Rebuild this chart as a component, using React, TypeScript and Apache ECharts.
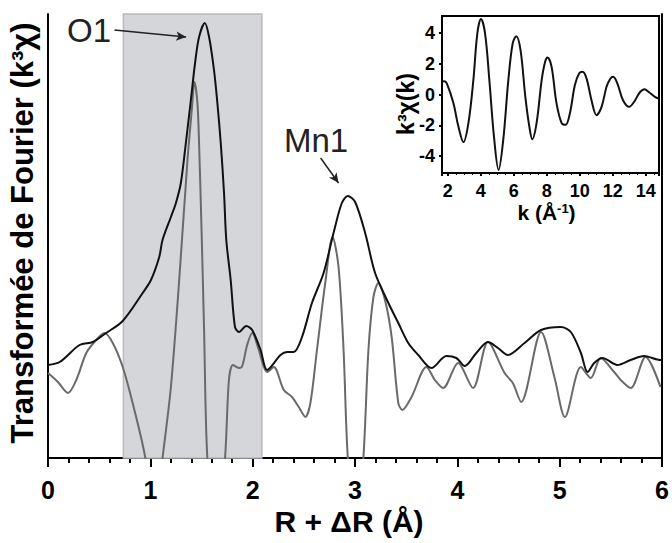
import React, { useEffect, useRef } from "react";
import * as echarts from "echarts";

// |FT| magnitude (black curve), R + dR in angstrom, arbitrary units
const magR = [0.0, 0.114, 0.309, 0.438, 0.568, 0.73, 0.925, 1.006, 1.087, 1.119, 1.201, 1.25, 1.298, 1.347, 1.396, 1.437, 1.476, 1.532, 1.574, 1.622, 1.655, 1.688, 1.72, 1.742, 1.785, 1.827, 1.866, 1.937, 1.995, 2.077, 2.141, 2.272, 2.336, 2.401, 2.482, 2.579, 2.693, 2.79, 2.871, 2.929, 3.001, 3.099, 3.196, 3.326, 3.423, 3.52, 3.618, 3.747, 3.893, 3.99, 4.072, 4.185, 4.299, 4.396, 4.493, 4.656, 4.817, 5.012, 5.109, 5.207, 5.272, 5.337, 5.418, 5.564, 5.693, 5.824, 5.985, 6.0];
const magVal = [93, 96, 113, 116, 125, 137, 165, 178, 201, 218, 241, 255, 275, 315, 358, 395, 421, 435, 421, 388, 355, 315, 265, 218, 178, 131, 126, 132, 128, 108, 88, 103, 106, 106, 121, 155, 185, 225, 255, 262, 256, 225, 185, 155, 135, 115, 103, 90, 102, 100, 92, 105, 116, 110, 103, 115, 128, 131, 126, 105, 86, 95, 100, 93, 98, 102, 98, 98];

// real part (grey curve)
const reR = [0.0, 0.097, 0.195, 0.276, 0.374, 0.471, 0.552, 0.633, 0.73, 0.827, 0.951, 1.035, 1.119, 1.201, 1.282, 1.363, 1.405, 1.431, 1.46, 1.476, 1.503, 1.525, 1.557, 1.643, 1.73, 1.768, 1.807, 1.866, 1.898, 1.946, 1.995, 2.06, 2.109, 2.141, 2.206, 2.304, 2.384, 2.45, 2.515, 2.564, 2.628, 2.709, 2.781, 2.839, 2.888, 2.929, 3.005, 3.082, 3.131, 3.18, 3.228, 3.293, 3.358, 3.423, 3.462, 3.552, 3.698, 3.78, 3.861, 4.007, 4.153, 4.299, 4.461, 4.542, 4.623, 4.818, 4.948, 5.051, 5.207, 5.304, 5.401, 5.532, 5.596, 5.693, 5.839, 5.985];
const reVal = [85, 76, 65, 78, 105, 118, 125, 115, 91, 55, 0, -70, 0, 71, 178, 298, 348, 376, 355, 315, 218, 128, 0, -90, 0, 78, 93, 90, 92, 113, 125, 108, 91, 86, 91, 68, 61, 51, 41, 55, 108, 175, 221, 191, 108, 1, -80, 1, 108, 161, 175, 158, 121, 55, 48, 61, 91, 78, 70, 95, 70, 116, 85, 75, 56, 126, 81, 41, 91, 80, 100, 86, 78, 70, 101, 71];

// inset: k^3 chi(k)
const kVals = [1.68, 1.8, 1.94, 2.34, 2.64, 2.95, 3.25, 3.55, 3.79, 4.01, 4.26, 4.52, 4.8, 5.08, 5.36, 5.67, 5.93, 6.15, 6.41, 6.7, 6.94, 7.12, 7.38, 7.69, 7.9, 8.05, 8.29, 8.59, 8.9, 9.14, 9.4, 9.7, 9.96, 10.17, 10.41, 10.71, 11.01, 11.32, 11.62, 11.86, 12.02, 12.28, 12.62, 12.99, 13.33, 13.63, 13.92, 14.2, 14.55, 14.8];
const chiVals = [0.84, 0.86, 0.72, -0.55, -2.07, -3.1, -1.86, 0.93, 3.96, 4.9, 3.96, 0.93, -2.74, -4.9, -2.96, 0.93, 3.3, 3.79, 2.88, -0.15, -2.07, -2.9, -1.86, 0.93, 2.12, 2.4, 1.8, -0.58, -1.86, -1.97, -1.22, 0.6, 1.36, 1.47, 1.03, -0.37, -1.34, -0.8, 0.5, 1.04, 1.15, 0.71, -0.37, -0.8, -0.41, 0.13, 0.34, 0.15, -0.15, -0.27];

const shadedRange = [0.737, 2.09];
const peakLabels = ["O1", "Mn1"];
// arrows [startR, startY, endR, endY] in data units
const arrowO1 = [0.649, 428, 1.35, 421];
const arrowMn1 = [2.664, 300, 2.839, 275];

const FONT = "'Liberation Sans', Arial, Helvetica, sans-serif";

export default function App() {
  const ref = useRef<HTMLDivElement>(null);
  useEffect(() => {
    document.body.style.margin = "0";
    const chart = echarts.init(ref.current!, null, { renderer: "svg" });
    const zip = (xs: number[], ys: number[]) => xs.map((x, i) => [x, ys[i]]);
    const blackAxisLine = { show: true, onZero: false, lineStyle: { color: "#000", width: 2 } };
    chart.setOption({
      animation: false,
      backgroundColor: "#fff",
      grid: [
        { left: 48, top: 14, right: 7, bottom: 85 },
        { left: 442, top: 16, width: 217, height: 157, show: true, backgroundColor: "#fff", borderColor: "#000", borderWidth: 2, z: 5 },
      ],
      xAxis: [
        {
          gridIndex: 0, type: "value", min: 0, max: 6, interval: 1,
          axisLine: blackAxisLine,
          axisTick: { show: true, length: 9, lineStyle: { color: "#000", width: 2 } },
          minorTick: { show: true, splitNumber: 5, length: 5, lineStyle: { color: "#000", width: 2 } },
          axisLabel: { margin: 19, fontSize: 25, fontWeight: "bold", color: "#000", fontFamily: FONT },
          splitLine: { show: false },
          name: "R + ΔR (Å)", nameLocation: "middle", nameGap: 47,
          nameTextStyle: { fontSize: 30, fontWeight: "bold", color: "#000", fontFamily: FONT, padding: [0, 12, 0, 0] },
        },
        {
          gridIndex: 1, type: "value", min: 1.65, max: 14.8, splitNumber: 6, z: 6,
          axisLine: blackAxisLine,
          axisTick: { show: true, length: 3, lineStyle: { color: "#000", width: 2 } },
          minorTick: { show: true, splitNumber: 4, length: 2, lineStyle: { color: "#000", width: 1 } },
          axisLabel: { margin: 9, fontSize: 18, fontWeight: "bold", color: "#000", fontFamily: FONT, showMinLabel: false, showMaxLabel: false },
          splitLine: { show: false },
          name: "{n|k (Å}{s|-1}{n|)}", nameLocation: "middle", nameGap: 29,
          nameTextStyle: {
            fontSize: 21, fontWeight: "bold", color: "#000", fontFamily: FONT, padding: [0, 8, 0, 0],
            rich: {
              n: { fontSize: 21, fontWeight: "bold", color: "#000", fontFamily: FONT, verticalAlign: "bottom" },
              s: { fontSize: 13, fontWeight: "bold", color: "#000", fontFamily: FONT, verticalAlign: "top" },
            },
          },
        },
      ],
      yAxis: [
        { gridIndex: 0, type: "value", min: 0, max: 444, axisLine: blackAxisLine, axisTick: { show: false }, axisLabel: { show: false }, splitLine: { show: false } },
        { gridIndex: 0, type: "value", position: "right", min: 0, max: 444, axisLine: blackAxisLine, axisTick: { show: false }, axisLabel: { show: false }, splitLine: { show: false } },
        {
          gridIndex: 1, type: "value", min: -5.1, max: 5.1, splitNumber: 5, z: 6,
          axisLine: blackAxisLine,
          axisTick: { show: true, length: 3, lineStyle: { color: "#000", width: 2 } },
          axisLabel: { margin: 7, fontSize: 18, fontWeight: "bold", color: "#000", fontFamily: FONT, showMinLabel: false, showMaxLabel: false },
          splitLine: { show: false },
        },
      ],
      series: [
        {
          type: "line", xAxisIndex: 0, yAxisIndex: 0, data: zip(reR, reVal), smooth: 0.3, symbol: "none",
          lineStyle: { color: "#6a6a6a", width: 2 }, z: 2,
          markArea: {
            silent: true,
            itemStyle: { color: "#d5d6d9", borderColor: "#b9babd", borderWidth: 1.5 },
            data: [[{ xAxis: shadedRange[0] }, { xAxis: shadedRange[1] }]],
          },
        },
        {
          type: "line", xAxisIndex: 0, yAxisIndex: 0, data: zip(magR, magVal), smooth: 0.3, symbol: "none",
          lineStyle: { color: "#111", width: 2 }, z: 3,
          markLine: {
            silent: true, symbol: ["none", "arrow"], symbolSize: [7, 10],
            lineStyle: { color: "#222", width: 1.5, type: "solid" }, label: { show: false },
            data: [
              [{ coord: [arrowO1[0], arrowO1[1]] }, { coord: [arrowO1[2], arrowO1[3]] }],
              [{ coord: [arrowMn1[0], arrowMn1[1]] }, { coord: [arrowMn1[2], arrowMn1[3]] }],
            ],
          },
        },
        {
          type: "line", xAxisIndex: 1, yAxisIndex: 2, data: zip(kVals, chiVals), smooth: 0.35, symbol: "none",
          lineStyle: { color: "#111", width: 2 }, z: 7,
        },
      ],
      graphic: [
        { type: "text", x: 67, y: 30, z: 10, style: { text: peakLabels[0], font: `33px ${FONT}`, fill: "#222", textAlign: "left", textVerticalAlign: "middle", align: "left", verticalAlign: "middle" } },
        { type: "text", x: 284, y: 140, z: 10, style: { text: peakLabels[1], font: `33px ${FONT}`, fill: "#222", textAlign: "left", textVerticalAlign: "middle", align: "left", verticalAlign: "middle" } },
        { type: "text", x: 22, y: 233, rotation: Math.PI / 2, z: 10, style: { text: "Transformée de Fourier (k³χ)", font: `bold 31px ${FONT}`, fill: "#000", textAlign: "center", textVerticalAlign: "middle", align: "center", verticalAlign: "middle" } },
        { type: "text", x: 406, y: 104, rotation: Math.PI / 2, z: 10, style: { text: "k³χ(k)", font: `bold 23px ${FONT}`, fill: "#000", textAlign: "center", textVerticalAlign: "middle", align: "center", verticalAlign: "middle" } },
      ],
    });
    return () => chart.dispose();
  }, []);
  return <div ref={ref} style={{ width: 672, height: 543 }} />;
}
